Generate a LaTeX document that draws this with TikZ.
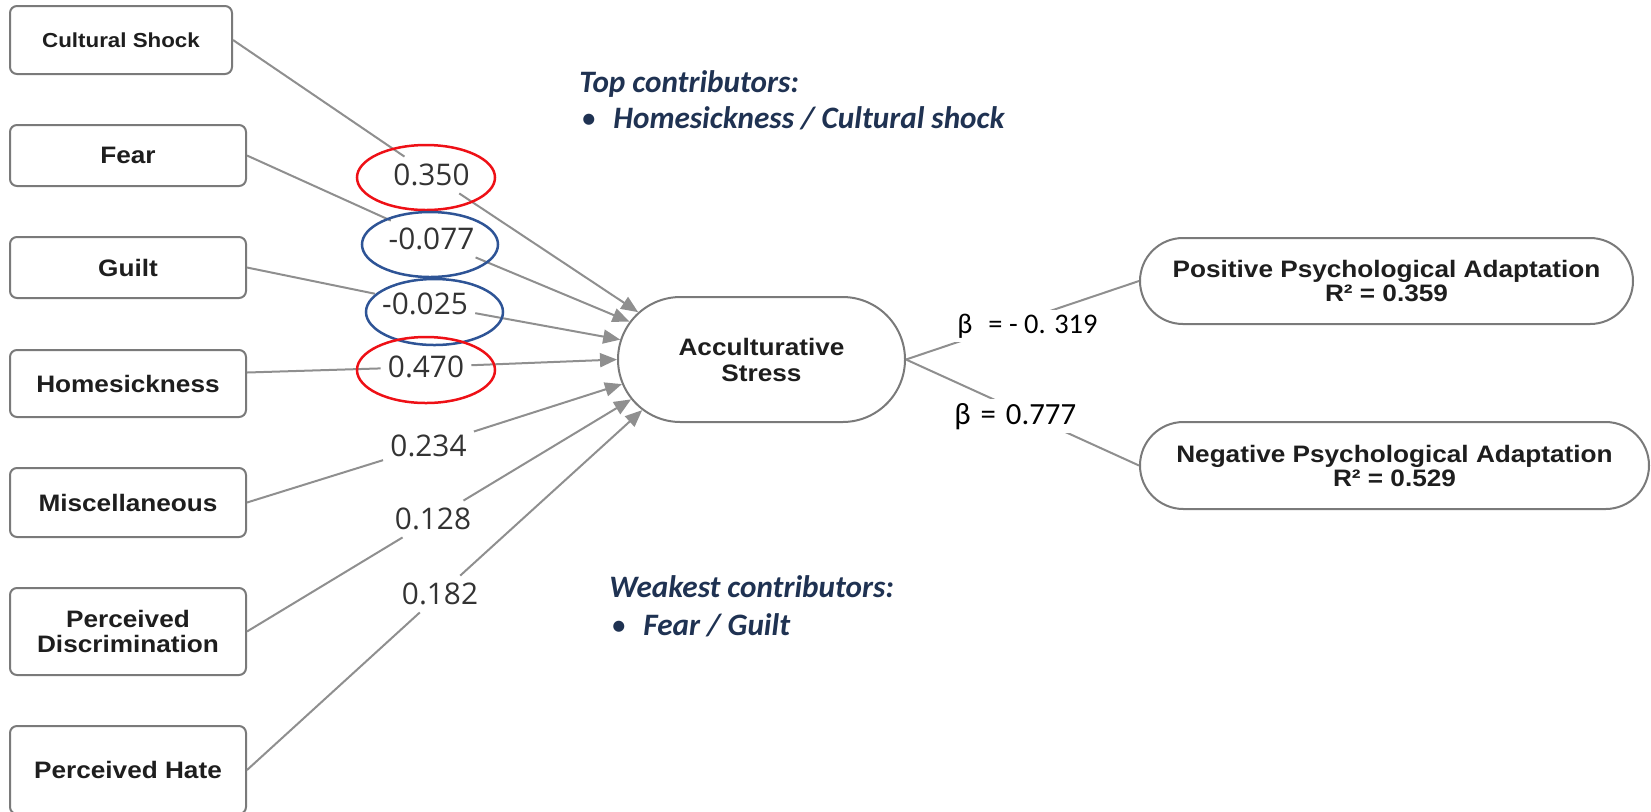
\documentclass[tikz,border=0pt]{standalone}
\usepackage{fontspec}
\setmainfont{Liberation Sans}
\newfontfamily\boxfont[FakeStretch=1.1]{Liberation Sans}
\newfontfamily\numfont{Open Sans}
\newfontfamily\calfont{Carlito}
\usetikzlibrary{shapes.misc,shapes.geometric,arrows.meta}
\definecolor{lineg}{RGB}{143,143,143}
\definecolor{boxg}{RGB}{122,122,122}
\definecolor{txt}{RGB}{30,30,30}
\definecolor{numtxt}{RGB}{51,51,51}
\definecolor{navy}{RGB}{31,50,82}
\definecolor{ered}{RGB}{238,16,22}
\definecolor{eblue}{RGB}{46,84,150}
\begin{document}
\begin{tikzpicture}[x=0.5pt,y=-0.5pt,
  box/.style={draw=boxg, line width=1pt, rounded corners=3.5pt, fill=white, inner sep=0pt,
    minimum width=118pt, align=center, text=txt,
    font=\boxfont\bfseries\fontsize{11.9}{12.5}\selectfont},
  pill/.style={rounded rectangle, draw=boxg, line width=1pt, fill=white, inner sep=0pt,
    align=center, text=txt},
  coef/.style={font=\numfont\fontsize{14.9}{16}\selectfont, text=numtxt, inner sep=3.5pt},
  ring/.style={ellipse, draw, line width=1.25pt, inner sep=0pt},
  link/.style={draw=lineg, line width=1pt},
  arr/.style={link, -{Triangle[length=8.5pt,width=7pt]}, lineg},
  beta/.style={font=\calfont\fontsize{14.2}{16}\selectfont, fill=white, inner sep=2pt, anchor=base west},
  note/.style={font=\calfont\bfseries\itshape\fontsize{15.6}{18}\selectfont, text=navy, inner sep=0pt, anchor=base west},
  dot/.style={font=\calfont\fontsize{15.6}{18}\selectfont, text=navy, inner sep=0pt, anchor=base}
]
\useasboundingbox (0,0) rectangle (1651,811);

% left boxes
\node[box, minimum width=111pt, minimum height=34pt, font=\boxfont\bfseries\fontsize{10.15}{12}\selectfont] (cs) at (121,40) {Cultural Shock};
\node[box, minimum height=30.5pt] (fear) at (128,155.5) {Fear};
\node[box, minimum height=30.5pt] (guilt) at (128,267.5) {Guilt};
\node[box, minimum height=33.5pt] (hs) at (128,383.5) {Homesickness};
\node[box, minimum height=34.5pt] (misc) at (128,502.5) {Miscellaneous};
\node[box, minimum height=43.5pt] (pd) at (128,631.5) {Perceived\\Discrimination};
\node[box, minimum height=44pt] (ph) at (128,770) {Perceived Hate};

% central and outcome nodes
\node[pill, minimum width=143.5pt, minimum height=62.5pt,
  font=\boxfont\bfseries\fontsize{11.9}{13}\selectfont] (stress) at (761.5,359.5) {Acculturative\\Stress};
\node[pill, minimum width=246.5pt, minimum height=43pt,
  font=\boxfont\bfseries\fontsize{11.9}{12}\selectfont] (pos) at (1386.5,281) {Positive Psychological Adaptation\\R² = 0.359};
\node[pill, minimum width=254.5pt, minimum height=43.5pt,
  font=\boxfont\bfseries\fontsize{11.9}{12}\selectfont] (neg) at (1394.5,465.5) {Negative Psychological Adaptation\\R² = 0.529};

% coefficient labels
\node[coef] (l1) at (431.5,175) {0.350};
\node[coef] (l2) at (431.5,239) {-0.077};
\node[coef] (l3) at (425,304) {-0.025};
\node[coef] (l4) at (426,367) {0.470};
\node[coef] (l5) at (428.5,446) {0.234};
\node[coef] (l6) at (433,519) {0.128};
\node[coef] (l7) at (440,594) {0.182};

% connectors
\draw[link] (cs.east) -- (l1);
\draw[arr] (l1) -- (stress.159);
\draw[link] (fear.east) -- (l2);
\draw[arr] (l2) -- (stress.164);
\draw[link] (guilt.east) -- (l3);
\draw[arr] (l3) -- (stress.172);
\draw[link] ([yshift=5.5pt]hs.east) -- (l4);
\draw[arr] (l4) -- (stress.180);
\draw[link] (misc.east) -- (l5);
\draw[arr] (l5) -- (stress.190);
\draw[link] (pd.east) -- (l6);
\draw[arr] (l6) -- (stress.197);
\draw[link] (ph.east) -- (l7);
\draw[arr] (l7) -- (stress.203);

\draw[link] (stress.east) -- (pos.west);
\draw[link] (stress.east) -- (neg.west);
\node[beta] (b1) at (953,333) {β\hspace{8pt}= - 0. 319};
\node[beta, font=\calfont\fontsize{15.4}{17}\selectfont] (b2) at (950,424) {β\hspace{1.5pt} =\hspace{1.5pt} 0.777};

% highlight rings
\node[ring, draw=ered, minimum width=69pt, minimum height=32.5pt] (e1) at (426,177.5) {};
\node[ring, draw=eblue, minimum width=68pt, minimum height=32.5pt] (e2) at (430,244.5) {};
\node[ring, draw=eblue, minimum width=68.5pt, minimum height=33pt] (e3) at (434.5,312) {};
\node[ring, draw=ered, minimum width=69pt, minimum height=33pt] (e4) at (426,370) {};

% notes
\node[note] (t1) at (579,92) {Top contributors:};
\node[dot] (t2) at (589,128) {•};
\node[note] (t3) at (613,128) {Homesickness / Cultural shock};
\node[note] (w1) at (609,597) {Weakest contributors:};
\node[dot] (w2) at (619,635) {•};
\node[note] (w3) at (643,635) {Fear / Guilt};
\end{tikzpicture}
\end{document}
